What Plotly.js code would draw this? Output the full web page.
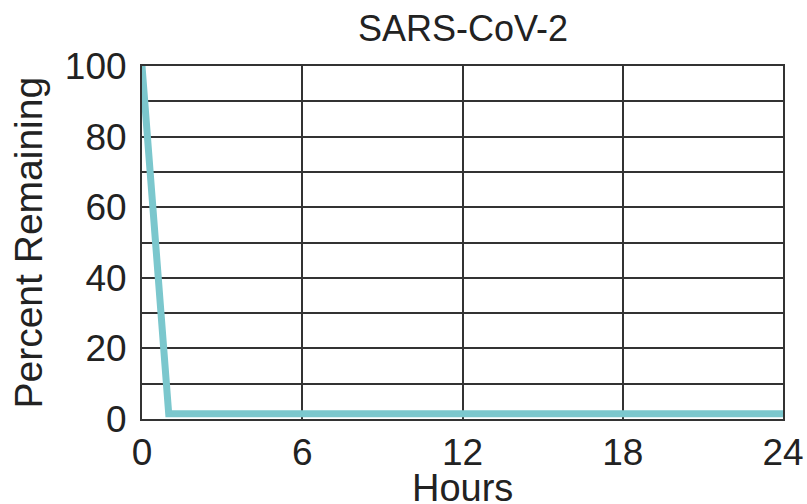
<!DOCTYPE html>
<html>
<head>
<meta charset="utf-8">
<script src="https://cdn.plot.ly/plotly-3.0.1.min.js"></script>
<style>html,body{margin:0;padding:0;background:#fff;}#chart{width:807px;height:504px;}</style>
</head>
<body>
<div id="chart"></div>
<script>
const hours = [0, 1, 24];
const percentRemaining = [100, 1.5, 1.5];
const xTicks = [0, 6, 12, 18, 24];
const yTicks = [0, 20, 40, 60, 80, 100];
const chartTitle = "SARS-CoV-2";
const xTitle = "Hours";
const yTitle = "Percent Remaining";

const font = "Liberation Sans, Arial, sans-serif";
const gridColor = "#333333";
const textColor = "#222222";

Plotly.newPlot("chart", [{
  x: hours,
  y: percentRemaining,
  type: "scatter",
  mode: "lines",
  line: {color: "#7bc7cd", width: 7},
  hoverinfo: "skip"
}], {
  width: 807,
  height: 504,
  margin: {l: 142, r: 24, t: 66, b: 85},
  paper_bgcolor: "#ffffff",
  plot_bgcolor: "#ffffff",
  showlegend: false,
  xaxis: {
    range: [0, 24],
    tickvals: xTicks,
    ticktext: xTicks.map(String),
    showgrid: true,
    gridcolor: gridColor,
    gridwidth: 2,
    showline: true,
    linecolor: gridColor,
    linewidth: 2,
    mirror: true,
    zeroline: false,
    ticks: "",
    ticklen: 0,
    ticklabelstandoff: 0,
    tickfont: {family: font, size: 37, color: textColor}
  },
  yaxis: {
    range: [0, 100],
    tickvals: yTicks,
    ticktext: yTicks.map(String),
    showgrid: true,
    gridcolor: gridColor,
    gridwidth: 2,
    minor: {dtick: 10, tick0: 0, showgrid: true, gridcolor: gridColor, gridwidth: 2, ticks: ""},
    showline: true,
    linecolor: gridColor,
    linewidth: 2,
    mirror: true,
    zeroline: false,
    ticks: "",
    ticklen: 0,
    ticklabelstandoff: 6,
    tickfont: {family: font, size: 37, color: textColor}
  },
  annotations: [
    {text: chartTitle, xref: "paper", yref: "paper", x: 0.5, y: 1.1076,
     xanchor: "center", yanchor: "middle", showarrow: false,
     font: {family: font, size: 36, color: textColor}},
    {text: xTitle, xref: "paper", yref: "paper", x: 0.5, y: -0.195,
     xanchor: "center", yanchor: "middle", showarrow: false,
     font: {family: font, size: 38, color: textColor}},
    {text: yTitle, xref: "paper", yref: "paper", x: -0.1778, y: 0.5,
     xanchor: "center", yanchor: "middle", showarrow: false, textangle: -90,
     font: {family: font, size: 39, color: textColor}}
  ]
}, {displayModeBar: false, staticPlot: true});
</script>
</body>
</html>
